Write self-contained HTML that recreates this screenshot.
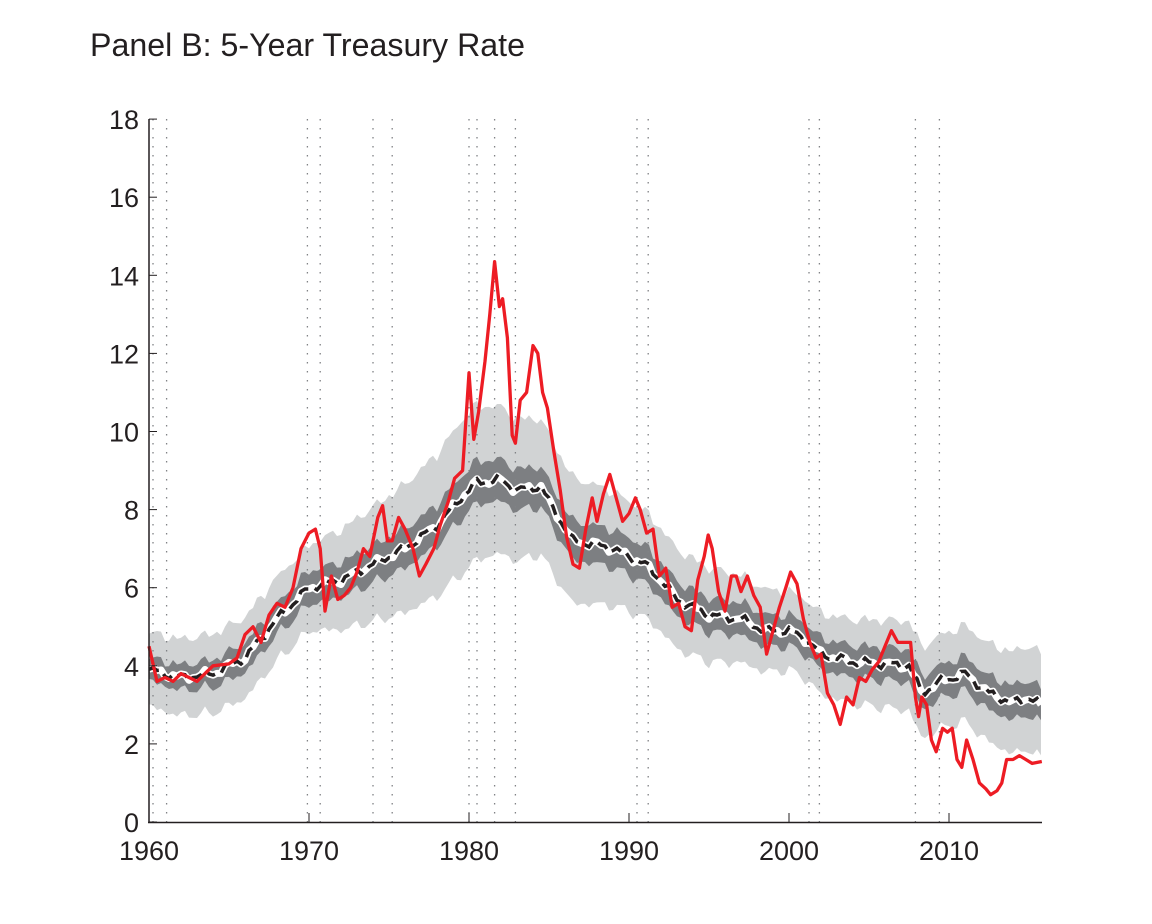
<!DOCTYPE html>
<html><head><meta charset="utf-8"><style>
body{margin:0;background:#fff;width:1152px;height:919px;overflow:hidden}
svg text{font-family:"Liberation Sans",sans-serif;fill:#231f20}
</style></head><body>
<svg id="s" width="1152" height="919" xmlns="http://www.w3.org/2000/svg"></svg>
<script>
const S=document.getElementById('s');
const X=y=>149+16*(y-1960), Y=v=>822-39.05*v;
function add(t,a,txt){const e=document.createElementNS('http://www.w3.org/2000/svg',t);for(const k in a)e.setAttribute(k,a[k]);if(txt)e.textContent=txt;S.appendChild(e);return e;}
function interp(pts,x){for(let i=0;i<pts.length-1;i++){if(x>=pts[i][0]&&x<=pts[i+1][0]){const t=(x-pts[i][0])/(pts[i+1][0]-pts[i][0]);return pts[i][1]+t*(pts[i+1][1]-pts[i][1]);}}return x<pts[0][0]?pts[0][1]:pts[pts.length-1][1];}
const med=[[1960,3.9],[1962,3.7],[1964,3.8],[1966,4.2],[1968,5.2],[1970,6.0],[1971,6.1],[1972,6.2],[1974,6.6],[1976,7.0],[1978,7.6],[1979.5,8.3],[1980.5,8.7],[1982,8.75],[1983,8.5],[1984.5,8.6],[1985,8.2],[1986.5,7.2],[1988,7.1],[1989,7.0],[1990,6.8],[1991,6.6],[1992,6.2],[1993,5.7],[1995,5.3],[1997,5.2],[1998.5,4.9],[2000,4.9],[2001,4.7],[2002,4.3],[2004,4.1],[2006,4.05],[2007.5,4.0],[2008.3,3.3],[2009.5,3.6],[2011,3.8],[2012.5,3.3],[2014,3.05],[2015,3.2],[2015.8,2.95]];
const ow=[[1960,0.95],[1970,1.1],[1980,2.0],[1990,1.4],[2000,1.0],[2010,1.2],[2015.8,1.35]];
const iw=[[1960,0.3],[1980,0.55],[2000,0.4],[2015.8,0.45]];
const xs=[];for(let y=1960;y<=2015.8;y+=0.25)xs.push(y);
const m=xs.map(x=>interp(med,x)+0.08*Math.sin(x*4.1)+0.05*Math.sin(x*9.3));
function band(wp,k){let up=xs.map((x,i)=>X(x)+','+Y(m[i]+interp(wp,x)*k+0.06*Math.sin(x*7))).join(' L');
let lo=xs.slice().reverse().map((x,j)=>{const i=xs.length-1-j;return X(x)+','+Y(m[i]-interp(wp,x)*k+0.06*Math.sin(x*5.3));}).join(' L');return 'M'+up+' L'+lo+'Z';}
add('path',{d:band(ow,1),fill:'#d1d3d4'});
add('path',{d:band(iw,1),fill:'#7d7f82'});
const rec=[1960.25,1961.1,1969.9,1970.7,1974,1975.2,1980,1980.5,1981.6,1982.9,1990.5,1991.2,2001.25,2001.9,2007.9,2009.4];
rec.forEach(r=>add('line',{x1:X(r),x2:X(r),y1:119,y2:822,stroke:'#808285','stroke-width':1.3,'stroke-dasharray':'1.5 7.5'}));
const mp='M'+xs.map((x,i)=>X(x)+','+Y(m[i])).join(' L');
add('path',{d:mp,fill:'none',stroke:'#fff','stroke-width':7,'stroke-linejoin':'round'});
add('path',{d:mp,fill:'none',stroke:'#231f20','stroke-width':3.5,'stroke-dasharray':'11 7'});
const red=[[1960,4.5],[1960.5,3.6],[1961,3.7],[1961.5,3.6],[1962,3.8],[1962.5,3.7],[1963,3.6],[1963.5,3.8],[1964,4.0],[1965,4.05],[1965.5,4.2],[1966,4.8],[1966.5,5.0],[1967,4.6],[1967.5,5.3],[1968,5.6],[1968.5,5.5],[1969,6.0],[1969.5,7.0],[1970,7.4],[1970.4,7.5],[1970.7,7.0],[1971,5.4],[1971.4,6.3],[1971.8,5.7],[1972.2,5.8],[1972.6,6.0],[1973,6.4],[1973.4,7.0],[1973.8,6.8],[1974.3,7.8],[1974.6,8.1],[1974.9,7.2],[1975.2,7.2],[1975.6,7.8],[1976,7.5],[1976.5,7.0],[1976.9,6.3],[1977.3,6.6],[1977.8,7.0],[1978.2,7.6],[1978.7,8.2],[1979.1,8.8],[1979.6,9.0],[1980,11.5],[1980.3,9.8],[1980.6,10.5],[1981,11.8],[1981.3,13.0],[1981.6,14.35],[1981.9,13.2],[1982.1,13.4],[1982.4,12.4],[1982.7,9.9],[1982.9,9.7],[1983.2,10.8],[1983.6,11.0],[1984,12.2],[1984.3,12.0],[1984.6,11.0],[1984.9,10.6],[1985.3,9.5],[1985.7,8.5],[1986.1,7.3],[1986.5,6.6],[1986.9,6.5],[1987.3,7.5],[1987.7,8.3],[1988,7.7],[1988.4,8.4],[1988.8,8.9],[1989.2,8.3],[1989.6,7.7],[1990,7.9],[1990.4,8.3],[1990.7,8.0],[1991.1,7.4],[1991.5,7.5],[1991.9,6.3],[1992.3,6.5],[1992.7,5.5],[1993.1,5.6],[1993.5,5.0],[1993.9,4.9],[1994.3,6.2],[1994.7,6.8],[1994.95,7.35],[1995.2,7.0],[1995.6,5.9],[1996,5.4],[1996.4,6.3],[1996.7,6.3],[1997,5.9],[1997.4,6.3],[1997.8,5.8],[1998.2,5.5],[1998.6,4.3],[1999,4.9],[1999.4,5.5],[1999.8,6.0],[2000.1,6.4],[2000.5,6.1],[2000.9,5.2],[2001.3,4.6],[2001.7,4.2],[2002,4.3],[2002.4,3.3],[2002.8,3.0],[2003.2,2.5],[2003.6,3.2],[2004,3.0],[2004.4,3.7],[2004.8,3.6],[2005.2,3.9],[2005.6,4.1],[2006,4.5],[2006.4,4.9],[2006.8,4.6],[2007.2,4.6],[2007.6,4.6],[2007.9,3.2],[2008.1,2.7],[2008.3,3.2],[2008.6,3.0],[2008.9,2.1],[2009.2,1.8],[2009.6,2.4],[2009.9,2.3],[2010.2,2.4],[2010.5,1.6],[2010.8,1.4],[2011.1,2.1],[2011.5,1.6],[2011.9,1.0],[2012.3,0.85],[2012.6,0.7],[2013,0.8],[2013.3,1.0],[2013.6,1.6],[2014,1.6],[2014.4,1.7],[2014.8,1.6],[2015.2,1.5],[2015.8,1.55]];
add('path',{d:'M'+red.map(p=>X(p[0])+','+Y(p[1])).join(' L'),fill:'none',stroke:'#ed1c24','stroke-width':3.3,'stroke-linejoin':'round'});
add('line',{x1:149,x2:149,y1:119,y2:823,stroke:'#231f20','stroke-width':1.5});
add('line',{x1:148,x2:1042,y1:822.5,y2:822.5,stroke:'#231f20','stroke-width':1.5});
for(let v=0;v<=18;v+=2){add('line',{x1:149,x2:157,y1:Y(v),y2:Y(v),stroke:'#231f20','stroke-width':1});add('text',{x:139,y:Y(v)+10,'font-size':27,'text-anchor':'end'},String(v));}
for(let yr=1960;yr<=2010;yr+=10){add('line',{x1:X(yr),x2:X(yr),y1:822,y2:813,stroke:'#231f20','stroke-width':1});add('text',{x:X(yr),y:860,'font-size':27,'text-anchor':'middle'},String(yr));}
add('text',{x:90,y:56,'font-size':32,'textLength':435,'lengthAdjust':'spacingAndGlyphs'},'Panel B: 5-Year Treasury Rate');
</script>
</body></html>
